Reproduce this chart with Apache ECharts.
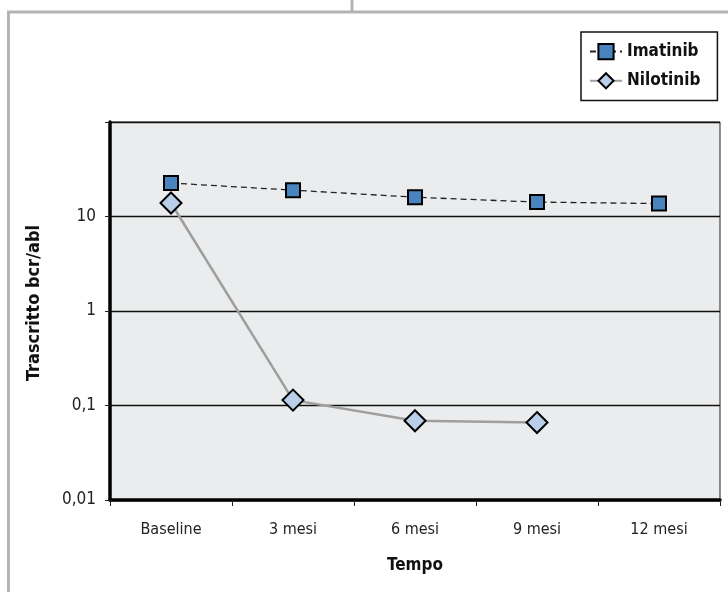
<!DOCTYPE html>
<html>
<head>
<meta charset="utf-8">
<script src="https://cdn.jsdelivr.net/npm/echarts@6/dist/echarts.min.js"></script>
<style>
html,body{margin:0;padding:0;background:#fff;}
#c{width:728px;height:592px;}
</style>
</head>
<body>
<div id="c"></div>
<script>
const categories = ['Baseline', '3 mesi', '6 mesi', '9 mesi', '12 mesi'];
const imatinib = [22.6, 19, 16, 14.2, 13.7];
const nilotinib = [13.9, 0.114, 0.069, 0.066, null];
const yLabels = {0.01: '0,01', 0.1: '0,1', 1: '1', 10: '10', 100: ''};

const FONT = '"Liberation Sans Narrow", "DejaVu Sans Condensed", "Liberation Sans", sans-serif';
const chart = echarts.init(document.getElementById('c'));
chart.setOption({
  animation: false,
  backgroundColor: '#ffffff',
  textStyle: {fontFamily: FONT},
  graphic: [
    {type: 'line', shape: {x1: 8.5, y1: 12, x2: 8.5, y2: 592}, style: {stroke: '#b4b4b4', lineWidth: 3}},
    {type: 'line', shape: {x1: 7, y1: 12, x2: 728, y2: 12}, style: {stroke: '#b4b4b4', lineWidth: 3}},
    {type: 'line', shape: {x1: 352, y1: 0, x2: 352, y2: 12}, style: {stroke: '#b4b4b4', lineWidth: 3}}
  ],
  legend: {
    orient: 'vertical',
    left: 581, top: 32,
    backgroundColor: '#ffffff',
    borderColor: '#111',
    borderWidth: 1.5,
    padding: [11, 17, 11, 8],
    itemGap: 12,
    itemWidth: 32,
    itemHeight: 19,
    textStyle: {fontFamily: FONT, fontWeight: 'bold', fontSize: 17, color: '#111'},
    data: ['Imatinib', 'Nilotinib']
  },
  grid: {
    left: 110, right: 8, top: 122, bottom: 92,
    show: true,
    backgroundColor: '#ebeced',
    borderColor: '#222',
    borderWidth: 1
  },
  xAxis: {
    type: 'category',
    data: categories,
    boundaryGap: true,
    name: 'Tempo',
    nameLocation: 'middle',
    nameGap: 57,
    nameTextStyle: {fontFamily: FONT, fontWeight: 'bold', fontSize: 17, color: '#111'},
    axisLine: {lineStyle: {color: '#000', width: 3.5}},
    axisTick: {show: true, alignWithLabel: false, length: 6, lineStyle: {color: '#222', width: 1}},
    axisLabel: {fontFamily: FONT, fontSize: 16, color: '#222', margin: 22}
  },
  yAxis: {
    type: 'log',
    logBase: 10,
    min: 0.01,
    max: 100,
    name: 'Trascritto bcr/abl',
    nameLocation: 'middle',
    nameGap: 67,
    nameRotate: 90,
    nameTextStyle: {fontFamily: FONT, fontWeight: 'bold', fontSize: 18, color: '#111', padding: [0, 0, 0, 16]},
    axisLine: {show: true, lineStyle: {color: '#000', width: 3.5}},
    axisTick: {show: true, length: 5, lineStyle: {color: '#222', width: 1}},
    axisLabel: {
      fontFamily: FONT, fontSize: 17, color: '#222', margin: 14,
      formatter: function (v) {
        const k = Object.keys(yLabels).find(x => Math.abs(parseFloat(x) - v) < v * 1e-6);
        return k !== undefined ? yLabels[k] : '';
      }
    },
    splitLine: {show: true, lineStyle: {color: '#111', width: 1.3}}
  },
  series: [
    {
      name: 'Nilotinib',
      type: 'line',
      data: nilotinib,
      symbol: 'diamond',
      symbolSize: [21, 21],
      lineStyle: {color: '#9e9e9e', width: 2.5},
      itemStyle: {color: '#b9cfe9', borderColor: '#000', borderWidth: 2},
      z: 2
    },
    {
      name: 'Imatinib',
      type: 'line',
      data: imatinib,
      symbol: 'rect',
      symbolSize: 14,
      lineStyle: {color: '#222', width: 1.3, type: [6, 4]},
      itemStyle: {color: '#4a84bf', borderColor: '#000', borderWidth: 2},
      z: 3
    }
  ]
});
</script>
</body>
</html>
